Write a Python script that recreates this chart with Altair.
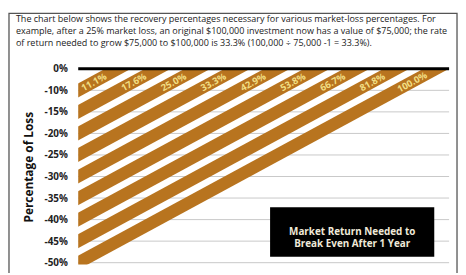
import altair as alt
import pandas as pd

# ---- data ----
loss_labels = ["0%", "-10%", "-15%", "-20%", "-25%", "-30%", "-35%", "-40%", "-45%", "-50%"]
loss_pct = [10, 15, 20, 25, 30, 35, 40, 45, 50]
recovery_labels = ["11.1%", "17.6%", "25.0%", "33.3%", "42.9%", "53.8%", "66.7%", "81.8%", "100.0%"]
header_lines = [
    "The chart below shows the recovery percentages necessary for various market-loss percentages. For",
    "example, after a 25% market loss, an original $100,000 investment now has a value of $75,000; the rate",
    "of return needed to grow $75,000 to $100,000 is 33.3% (100,000 \u00f7 75,000 -1 = 33.3%).",
]
box_lines = ["Market Return Needed to", "Break Even After 1 Year"]

# each stripe k runs from the k-th loss level on the left edge up to the 0% line
rows = []
for k, (lp, rl) in enumerate(zip(loss_pct, recovery_labels), start=1):
    rows.append({"stripe": k, "loss": lp, "x": -1, "y": -(k + 1)})
    rows.append({"stripe": k, "loss": lp, "x": k + 1, "y": 1})
stripes = pd.DataFrame(rows)
labels = pd.DataFrame({
    "stripe": list(range(1, len(loss_pct) + 1)),
    "label": recovery_labels,
})
labels["lx"] = labels["stripe"] - 0.6
labels["ly"] = -0.63
grid = pd.DataFrame({"g": [-i for i in range(1, len(loss_labels))], "lab": loss_labels[1:]})
one = pd.DataFrame({"a": [0]})

W, H = 374, 198
xscale = alt.Scale(domain=[0, 9.3], nice=False, zero=False)
yscale = alt.Scale(domain=[-9.09, 0], nice=False, zero=False)

# label expression built from the tick-label list (nested ternary)
expr = "''"
for i in range(len(loss_labels) - 1, -1, -1):
    expr = "(datum.value == %d ? '%s' : %s)" % (-i, loss_labels[i], expr)

STRIPE = "#B8741F"
FONT = "Open Sans"

yaxis = alt.Axis(
    values=[-i for i in range(len(loss_labels))],
    labelExpr=expr, labelOverlap=False,
    title="Percentage of Loss",
    titleFont=FONT, titleFontSize=12, titleFontWeight="bold", titleColor="#111",
    titleX=-50, titleY=99, titleAngle=270, titleBaseline="middle", titleAlign="center",
    labelFont=FONT, labelFontSize=10, labelFontWeight="bold", labelColor="#222",
    labelPadding=11, ticks=False, domain=False, grid=False,
)

grid_layer = alt.Chart(grid).mark_rule(color="#c8c8c8", strokeWidth=1).encode(
    x=alt.value(0), x2=alt.value(W + 1),
    y=alt.Y("g:Q", scale=yscale, axis=yaxis),
)

stripe_layer = alt.Chart(stripes).mark_line(
    clip=True, strokeWidth=12.4, color=STRIPE, strokeCap="butt"
).encode(
    x=alt.X("x:Q", scale=xscale, axis=None),
    y=alt.Y("y:Q", scale=yscale, axis=yaxis),
    detail="stripe:N",
    order="x:Q",
)

label_layer = alt.Chart(labels).mark_text(
    font=FONT, fontSize=9.5, fontWeight="bold", color="#F2DF84",
    angle=331.4, align="center", baseline="middle",
).encode(
    x=alt.X("lx:Q", scale=xscale, axis=None),
    y=alt.Y("ly:Q", scale=yscale, axis=yaxis),
    text="label:N",
)

zero_rule = alt.Chart(one).mark_rule(color="black", strokeWidth=3).encode(
    x=alt.value(0), x2=alt.value(W + 1), y=alt.value(0)
)

box = alt.Chart(one).mark_rect(color="black").encode(
    x=alt.value(194), x2=alt.value(360), y=alt.value(140), y2=alt.value(190)
)
box_text = alt.Chart(one).mark_text(
    text=box_lines, font=FONT, fontSize=10, fontWeight="bold", color="#EFE9D8",
    align="center", baseline="middle", lineHeight=12.5,
).encode(x=alt.value(277), y=alt.value(165))

header = alt.Chart(one).mark_text(
    text=header_lines, font=FONT, fontSize=9.1, color="#222",
    align="left", baseline="top", lineHeight=11.8,
).encode(x=alt.value(-63), y=alt.value(-54))

frame = alt.Chart(one).mark_rect(
    fillOpacity=0, stroke="#555", strokeWidth=1.3, clip=False
).encode(x=alt.value(-70), x2=alt.value(383), y=alt.value(-56), y2=alt.value(260))

chart = alt.layer(
    grid_layer, stripe_layer, label_layer, zero_rule, box, box_text, header, frame
).properties(
    width=W, height=H,
    autosize=alt.AutoSizeParams(type="none"),
    padding={"left": 71, "top": 60, "right": 10, "bottom": 7},
).configure_view(strokeWidth=0).configure_axis(labelOverlap=False)

chart.save("out.html", embed_options={"renderer": "svg", "actions": False})
